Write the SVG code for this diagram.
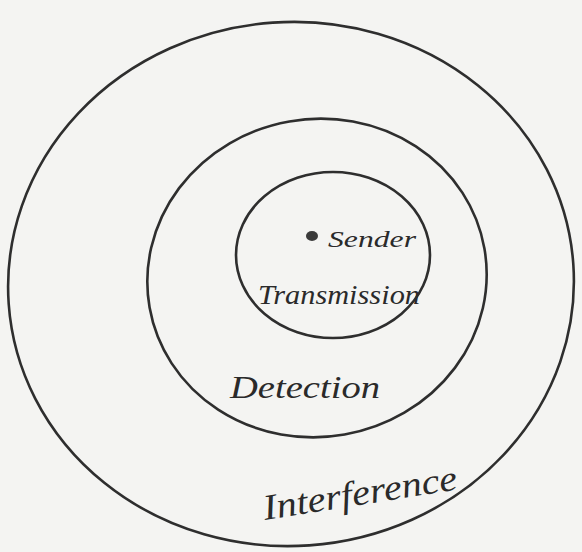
<svg xmlns="http://www.w3.org/2000/svg" width="582" height="552" viewBox="0 0 582 552">
<style>
.ring{fill:none;stroke:#2e2e2e;stroke-width:2.6}
.lbl{font-family:"Liberation Serif","DejaVu Serif",serif;font-style:italic;fill:#2a2a2a}
</style>
<rect width="582" height="552" fill="#f4f4f2"/>
<g id="interference">
<ellipse class="ring" cx="291" cy="284" rx="283" ry="262" transform="rotate(-4 291 284)"/>
<text class="lbl" x="265" y="520" font-size="36" textLength="196" lengthAdjust="spacingAndGlyphs" transform="rotate(-9 265 520)">Interference</text>
</g>
<g id="detection">
<ellipse class="ring" cx="317" cy="278" rx="170" ry="159" transform="rotate(-10 317 278)"/>
<text class="lbl" x="230" y="398" font-size="32" textLength="150" lengthAdjust="spacingAndGlyphs">Detection</text>
</g>
<g id="transmission">
<ellipse class="ring" cx="333" cy="255" rx="97" ry="83"/>
<text class="lbl" x="258" y="304" font-size="28" textLength="162" lengthAdjust="spacingAndGlyphs">Transmission</text>
</g>
<g id="sender">
<ellipse cx="312" cy="236" rx="6" ry="5" fill="#3a3a3a"/>
<text class="lbl" x="328" y="247" font-size="23" textLength="88" lengthAdjust="spacingAndGlyphs">Sender</text>
</g>
<g id="connectors"/>
</svg>
